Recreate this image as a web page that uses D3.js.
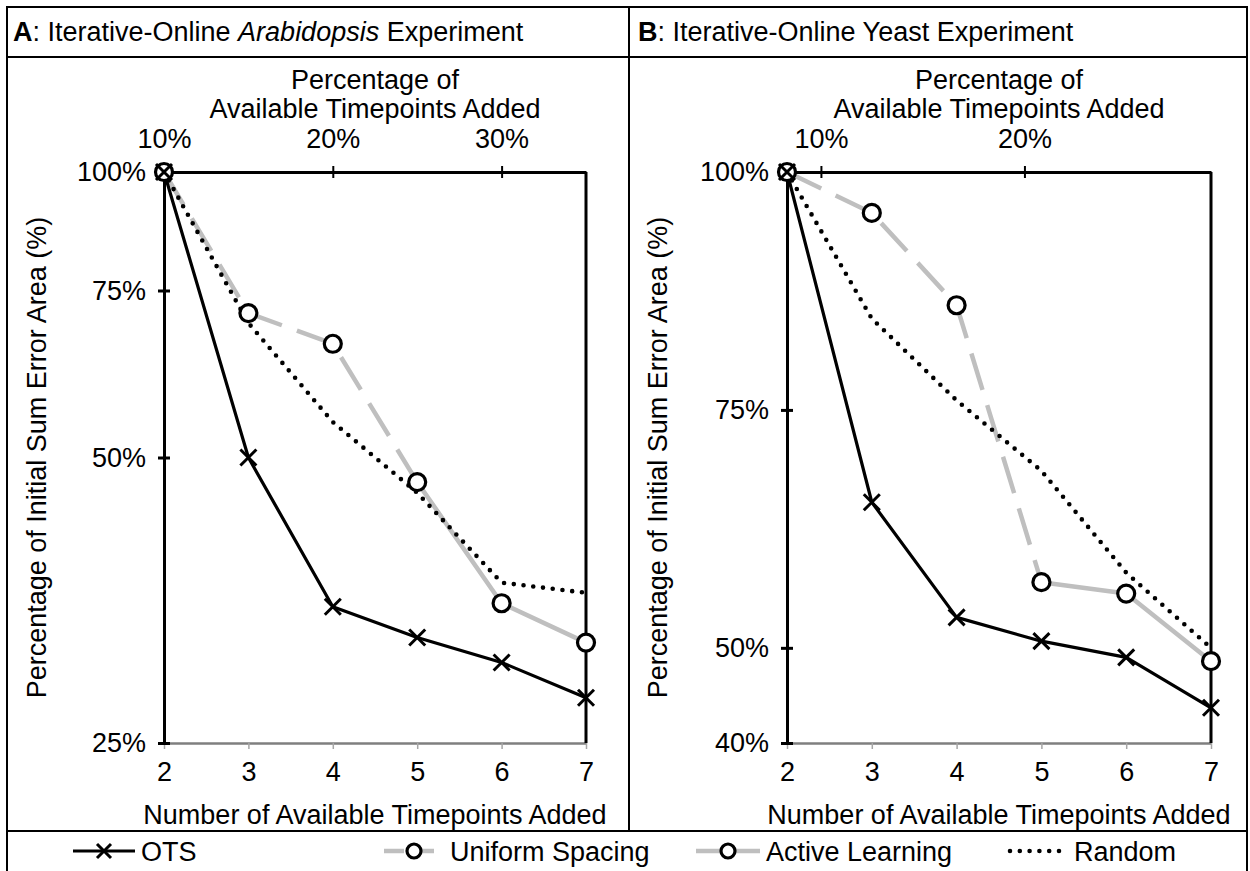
<!DOCTYPE html>
<html>
<head>
<meta charset="utf-8">
<script src="https://cdn.jsdelivr.net/npm/d3@7"></script>
<style>
  body { margin: 0; background: #fff; }
  svg { display: block; font-family: "Liberation Sans", Arial, Helvetica, sans-serif; }
</style>
</head>
<body>
<svg id="chart" width="1250" height="871"></svg>
<script>
// ---- data -------------------------------------------------------------
const timepoints   = [2, 3, 4, 5, 6, 7];
const uniformSteps = [2, 3, 4, 5];
const activeSteps  = [5, 6, 7];

// Arabidopsis experiment (% of initial sum error area)
const arabOTS     = [100, 50.0, 34.8, 32.3, 30.4, 27.9];
const arabUniform = [100, 71.0, 65.9, 47.1];
const arabActive  = [47.1, 35.1, 31.9];
const arabRandom  = [100, 69.3, 54.5, 45.9, 36.9, 36.0];

// Yeast experiment (% of initial sum error area)
const yeastOTS     = [100, 65.3, 53.2, 50.7, 49.0, 43.7];
const yeastUniform = [100, 95.7, 86.0, 56.9];
const yeastActive  = [56.9, 55.7, 48.6];
const yeastRandom  = [100, 84.6, 76.0, 68.6, 57.9, 50.0];

// axis ticks
const arabYTicks   = [25, 50, 75, 100];
const yeastYTicks  = [40, 50, 75, 100];
const arabPctTicks  = [10, 20, 30];
const yeastPctTicks = [10, 20];
const arabTotalTimepoints  = 20;
const yeastTotalTimepoints = 24;

const legendLabels = ["OTS", "Uniform Spacing", "Active Learning", "Random"];

// ---- styles -----------------------------------------------------------
const FONT = 27;
const GRAY = "#bfbfbf";
const styles = {
  ots:     { stroke: "#000", width: 3.2, dash: null },
  uniform: { stroke: GRAY,   width: 4.5, dash: "38,16" },
  active:  { stroke: GRAY,   width: 4.5, dash: null },
  random:  { stroke: "#000", width: 4.6, dash: "0,9.8" }
};

const svg = d3.select("#chart");

// ---- frame ------------------------------------------------------------
const frame = svg.append("g").attr("fill", "none").attr("stroke", "#000").attr("stroke-width", 2);
frame.append("rect").attr("x", 7).attr("y", 7).attr("width", 1240).attr("height", 880);
frame.append("line").attr("x1", 7).attr("x2", 1247).attr("y1", 57).attr("y2", 57);
frame.append("line").attr("x1", 7).attr("x2", 1247).attr("y1", 831).attr("y2", 831);
frame.append("line").attr("x1", 629).attr("x2", 629).attr("y1", 7).attr("y2", 831);

// panel headers
function header(x, letter, parts) {
  const t = svg.append("text").attr("x", x).attr("y", 41).attr("font-size", FONT).attr("fill", "#000");
  t.append("tspan").attr("font-weight", "bold").text(letter);
  parts.forEach(p => {
    const s = t.append("tspan").text(p.text);
    if (p.italic) s.attr("font-style", "italic");
  });
}
header(13, "A", [{ text: ": Iterative-Online " }, { text: "Arabidopsis", italic: true }, { text: " Experiment" }]);
header(638, "B", [{ text: ": Iterative-Online Yeast Experiment" }]);

// ---- panels -----------------------------------------------------------
function drawPanel(cfg) {
  const g = svg.append("g");
  const x = d3.scaleLinear().domain([2, 7]).range([cfg.left, cfg.right]);
  const y = cfg.y;
  const pct = d3.scaleLinear()
    .domain([200 / cfg.total, 700 / cfg.total])
    .range([cfg.left, cfg.right]);
  const top = 172, bottom = 743;
  const cx = (cfg.left + cfg.right) / 2;

  // bottom axis (gray)
  const xb = g.append("g").attr("transform", `translate(0,${bottom})`)
    .call(d3.axisBottom(x).tickValues(timepoints).tickFormat(d3.format("d"))
      .tickSize(6).tickSizeOuter(0).tickPadding(13));
  xb.select(".domain").attr("stroke", "#7f7f7f").attr("stroke-width", 2.5);
  xb.selectAll(".tick line").attr("stroke", "#a6a6a6").attr("stroke-width", 1.5);
  xb.selectAll("text").attr("font-size", FONT).attr("fill", "#000").attr("font-family", null);

  // right border
  g.append("line").attr("x1", cfg.right).attr("x2", cfg.right).attr("y1", top).attr("y2", bottom)
    .attr("stroke", "#000").attr("stroke-width", 3);

  // top axis: percentage of available timepoints
  const xt = g.append("g").attr("transform", `translate(0,${top})`)
    .call(d3.axisTop(pct).tickValues(cfg.pctTicks).tickFormat(d => d + "%")
      .tickSize(6).tickSizeOuter(0).tickPadding(18));
  xt.select(".domain").attr("stroke", "#000").attr("stroke-width", 3);
  xt.selectAll(".tick line").attr("stroke", "#000").attr("stroke-width", 2);
  xt.selectAll("text").attr("font-size", FONT).attr("fill", "#000").attr("font-family", null);
  const xti = g.append("g").attr("transform", `translate(0,${top})`)
    .call(d3.axisBottom(pct).tickValues(cfg.pctTicks).tickFormat("").tickSize(6).tickSizeOuter(0));
  xti.select(".domain").remove();
  xti.selectAll(".tick line").attr("stroke", "#000").attr("stroke-width", 2);

  // left axis
  const yl = g.append("g").attr("transform", `translate(${cfg.left},0)`)
    .call(d3.axisLeft(y).tickValues(cfg.yTicks).tickFormat(d => d + "%")
      .tickSize(6).tickSizeOuter(0).tickPadding(12));
  yl.select(".domain").attr("stroke", "#000").attr("stroke-width", 3);
  yl.selectAll(".tick line").attr("stroke", "#000").attr("stroke-width", 3);
  yl.selectAll("text").attr("font-size", FONT).attr("fill", "#000").attr("font-family", null);
  const yli = g.append("g").attr("transform", `translate(${cfg.left},0)`)
    .call(d3.axisRight(y).tickValues(cfg.yTicks).tickFormat("").tickSize(6).tickSizeOuter(0));
  yli.select(".domain").remove();
  yli.selectAll(".tick line").attr("stroke", "#000").attr("stroke-width", 3);

  // axis titles
  g.append("text").attr("x", cx).attr("y", 89).attr("text-anchor", "middle").attr("font-size", FONT)
    .text("Percentage of");
  g.append("text").attr("x", cx).attr("y", 118).attr("text-anchor", "middle").attr("font-size", FONT)
    .text("Available Timepoints Added");
  g.append("text").attr("x", cx).attr("y", 824).attr("text-anchor", "middle").attr("font-size", FONT)
    .text("Number of Available Timepoints Added");
  g.append("text")
    .attr("transform", `translate(${cfg.yTitleX},${(top + bottom) / 2}) rotate(-90)`)
    .attr("text-anchor", "middle").attr("font-size", FONT)
    .text("Percentage of Initial Sum Error Area (%)");

  // series lines
  const line = d3.line().x(d => x(d[0])).y(d => y(d[1]));
  const series = [
    { key: "uniform", pts: d3.zip(uniformSteps, cfg.uniform) },
    { key: "active",  pts: d3.zip(activeSteps, cfg.active) },
    { key: "random",  pts: d3.zip(timepoints, cfg.random) },
    { key: "ots",     pts: d3.zip(timepoints, cfg.ots) }
  ];
  series.forEach(s => {
    const st = styles[s.key];
    g.append("path").datum(s.pts).attr("d", line)
      .attr("fill", "none").attr("stroke", st.stroke).attr("stroke-width", st.width)
      .attr("stroke-dasharray", st.dash)
      .attr("stroke-linecap", s.key === "random" ? "round" : "butt")
      .attr("stroke-linejoin", "round");
  });

  // circle markers (uniform + active)
  const circ = d3.zip(uniformSteps, cfg.uniform).concat(d3.zip(activeSteps, cfg.active).slice(1));
  g.selectAll(null).data(circ).join("circle")
    .attr("cx", d => x(d[0])).attr("cy", d => y(d[1])).attr("r", 8.5)
    .attr("fill", "#fff").attr("stroke", "#000").attr("stroke-width", 3.2);

  // x markers (OTS)
  g.selectAll(null).data(d3.zip(timepoints, cfg.ots)).join("path")
    .attr("transform", d => `translate(${x(d[0])},${y(d[1])})`)
    .attr("d", "M-8,-8L8,8M-8,8L8,-8")
    .attr("stroke", "#000").attr("stroke-width", 3).attr("fill", "none");
}

drawPanel({
  left: 164, right: 586, yTitleX: 46,
  y: d3.scaleLog().domain([25, 100]).range([743, 172]),
  yTicks: arabYTicks, pctTicks: arabPctTicks, total: arabTotalTimepoints,
  ots: arabOTS, uniform: arabUniform, active: arabActive, random: arabRandom
});
drawPanel({
  left: 787, right: 1211, yTitleX: 667,
  y: d3.scaleLinear().domain([40, 100]).range([743, 172]),
  yTicks: yeastYTicks, pctTicks: yeastPctTicks, total: yeastTotalTimepoints,
  ots: yeastOTS, uniform: yeastUniform, active: yeastActive, random: yeastRandom
});

// ---- legend -----------------------------------------------------------
const ly = 851;
const leg = svg.append("g");
const legendItems = [
  { key: "ots",     x0: 73,   x1: 135,  marker: "x" },
  { key: "uniform", x0: 384,  x1: 444,  marker: "o" },
  { key: "active",  x0: 696,  x1: 760,  marker: "o" },
  { key: "random",  x0: 1010, x1: 1068, marker: null }
];
legendItems.forEach((it, i) => {
  const st = styles[it.key];
  leg.append("line").attr("x1", it.x0).attr("x2", it.x1).attr("y1", ly).attr("y2", ly)
    .attr("stroke", st.stroke).attr("stroke-width", st.width)
    .attr("stroke-dasharray", it.key === "uniform" ? "20,10" : st.dash)
    .attr("stroke-linecap", it.key === "random" ? "round" : "butt");
  const mx = (it.x0 + it.x1) / 2;
  if (it.marker === "o") {
    leg.append("circle").attr("cx", mx).attr("cy", ly).attr("r", 7)
      .attr("fill", "#fff").attr("stroke", "#000").attr("stroke-width", 3.2);
  } else if (it.marker === "x") {
    leg.append("path").attr("transform", `translate(${mx},${ly})`)
      .attr("d", "M-7,-7L7,7M-7,7L7,-7").attr("stroke", "#000").attr("stroke-width", 3);
  }
  leg.append("text").attr("x", it.x1 + 6).attr("y", ly + 10).attr("font-size", FONT)
    .text(legendLabels[i]);
});
</script>
</body>
</html>
